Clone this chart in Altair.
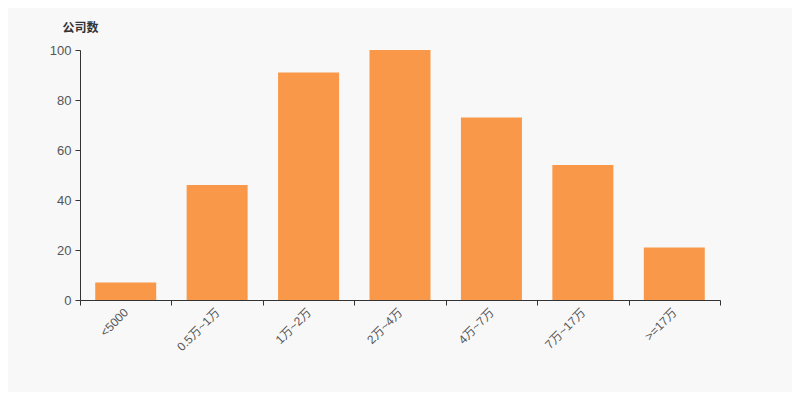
import altair as alt
import pandas as pd

categories = ["<5000", "0.5万~1万", "1万~2万", "2万~4万", "4万~7万", "7万~17万", ">=17万"]
counts = [7, 46, 91, 100, 73, 54, 21]

df = pd.DataFrame({"cat": categories, "count": counts})

FONT = "Liberation Sans, Noto Sans CJK SC, sans-serif"

chart = alt.Chart(df).mark_bar(color="#F89848", width=alt.RelativeBandSize(0.667)).encode(
    x=alt.X("cat:N", sort=categories,
            scale=alt.Scale(paddingInner=0, paddingOuter=0),
            axis=alt.Axis(title=None, labelAngle=-45, labelAlign="right", labelBaseline="middle",
                          tickBand="extent", labelPadding=5, tickSize=5,
                          domainColor="#333333", tickColor="#333333",
                          labelColor="#555555", labelFontSize=12, labelFont=FONT)),
    y=alt.Y("count:Q", scale=alt.Scale(domain=[0, 100]),
            axis=alt.Axis(title="公司数", values=[0, 20, 40, 60, 80, 100], grid=False,
                          titleAngle=0, titleAlign="center", titleBaseline="middle",
                          titleX=0, titleY=-23, titleFontWeight="bold", titleFontSize=12,
                          titleFont=FONT, titleColor="#333333",
                          domainColor="#333333", tickColor="#333333", tickSize=5,
                          labelColor="#555555", labelFontSize=13, labelFont=FONT, labelPadding=4)),
).properties(
    width=640, height=250,
    background="#F8F8F8",
    autosize=alt.AutoSizeParams(type="none"),
    padding={"left": 72, "top": 42, "right": 72, "bottom": 92},
).configure_view(stroke=None)

chart.save("out.html", embed_options={"renderer": "svg", "actions": False})
